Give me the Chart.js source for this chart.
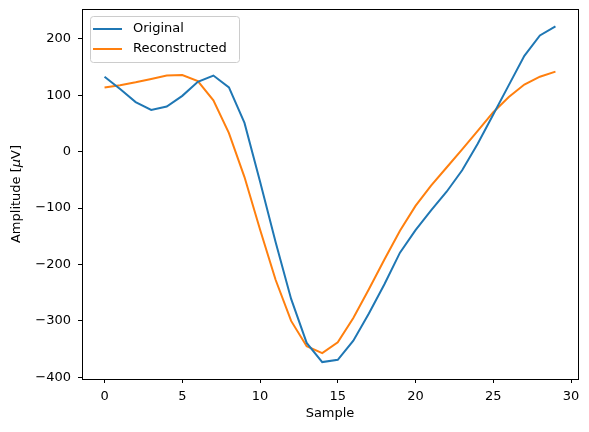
<!DOCTYPE html>
<html>
<head>
<meta charset="utf-8">
<script src="https://cdn.jsdelivr.net/npm/chart.js@4"></script>
<style>
  html, body { margin: 0; padding: 0; background: #fff; }
  #wrap { width: 589px; height: 432px; }
</style>
</head>
<body>
<div id="wrap"><canvas id="chart"></canvas></div>
<script>
const samples = Array.from({ length: 30 }, (_, i) => i);
const original = [133, 111, 88, 74, 80, 99, 124, 135, 114, 51,
  -53, -160, -261, -339, -373, -369, -335, -287, -235, -179,
  -139, -104, -71, -33, 14, 66, 118, 170, 206, 222];
const reconstructed = [114, 118, 123, 129, 135, 136, 125, 91, 33, -45,
  -138, -227, -300, -345, -357, -338, -295, -244, -191, -140,
  -96, -60, -28, 4, 37, 70, 97, 119, 133, 142];
const xTicks = [0, 5, 10, 15, 20, 25, 30];
const yTicks = [-400, -300, -200, -100, 0, 100, 200];

const font = { family: 'DejaVu Sans', size: 13 };

// matplotlib-like legend drawn inside the axes, upper left
const innerLegend = {
  id: 'innerLegend',
  afterDraw(chart) {
    const { ctx, chartArea } = chart;
    const x = chartArea.left + 8, y = chartArea.top + 7;
    const w = 149, h = 46;
    ctx.save();
    ctx.fillStyle = 'rgba(255,255,255,0.8)';
    ctx.strokeStyle = '#cccccc';
    ctx.lineWidth = 1;
    ctx.beginPath();
    ctx.roundRect(x + 0.5, y + 0.5, w, h, 3);
    ctx.fill();
    ctx.stroke();
    ctx.font = '13px "DejaVu Sans"';
    ctx.textBaseline = 'middle';
    chart.data.datasets.forEach((ds, i) => {
      const ly = y + 13 + i * 20;
      ctx.strokeStyle = ds.borderColor;
      ctx.lineWidth = 2;
      ctx.beginPath();
      ctx.moveTo(x + 3, ly);
      ctx.lineTo(x + 32, ly);
      ctx.stroke();
      ctx.fillStyle = '#000';
      ctx.fillText(ds.label, x + 43, ly);
    });
    ctx.restore();
  }
};

// y axis title with italic mu, like matplotlib mathtext
const yTitle = {
  id: 'yTitle',
  afterDraw(chart) {
    const { ctx, chartArea } = chart;
    const parts = [['Amplitude [', 'normal'], ['μ', 'italic'], ['V]', 'normal']];
    ctx.save();
    let total = 0;
    parts.forEach(([t, st]) => {
      ctx.font = st + ' 13px "DejaVu Sans"';
      total += ctx.measureText(t).width;
    });
    ctx.translate(17, (chartArea.top + chartArea.bottom) / 2);
    ctx.rotate(-Math.PI / 2);
    ctx.fillStyle = '#000';
    ctx.textBaseline = 'middle';
    let px = -total / 2;
    parts.forEach(([t, st]) => {
      ctx.font = st + ' 13px "DejaVu Sans"';
      ctx.fillText(t, px, 0);
      px += ctx.measureText(t).width;
    });
    ctx.restore();
  }
};

const noPad = (axis) => {
  axis.paddingTop = 0; axis.paddingBottom = 0;
  axis.paddingLeft = 0; axis.paddingRight = 0;
};

// matplotlib writes negatives with a real minus sign
const tickLabel = (v) => (v < 0 ? '\u2212' + Math.abs(v) : String(v));

new Chart(document.getElementById('chart'), {
  type: 'line',
  data: {
    datasets: [
      {
        label: 'Original',
        data: samples.map((s, i) => ({ x: s, y: original[i] })),
        borderColor: '#1f77b4',
        borderWidth: 2,
        pointRadius: 0,
        fill: false,
        tension: 0,
      },
      {
        label: 'Reconstructed',
        data: samples.map((s, i) => ({ x: s, y: reconstructed[i] })),
        borderColor: '#ff7f0e',
        borderWidth: 2,
        pointRadius: 0,
        fill: false,
        tension: 0,
      }
    ]
  },
  options: {
    responsive: true,
    maintainAspectRatio: false,
    animation: false,
    layout: { padding: { top: 9, right: 11, left: 0, bottom: 0 } },
    plugins: {
      legend: { display: false },
      tooltip: { enabled: false },
    },
    scales: {
      x: {
        type: 'linear',
        min: -1.45,
        max: 30.45,
        afterBuildTicks: (axis) => { axis.ticks = xTicks.map(v => ({ value: v })); },
        afterFit: (axis) => { axis.height = 53; noPad(axis); },
        grid: { drawOnChartArea: false, drawTicks: true, tickLength: 4, color: '#000' },
        border: { color: '#000', width: 1 },
        ticks: { color: '#000', font, padding: 6, maxRotation: 0, callback: tickLabel },
        title: { display: true, text: 'Sample', color: '#000', font, padding: { top: 2, bottom: 11 } },
      },
      y: {
        min: -403,
        max: 253,
        afterBuildTicks: (axis) => { axis.ticks = yTicks.map(v => ({ value: v })); },
        afterFit: (axis) => { axis.width = 82; noPad(axis); },
        grid: { drawOnChartArea: false, drawTicks: true, tickLength: 4, color: '#000' },
        border: { color: '#000', width: 1 },
        ticks: { color: '#000', font, padding: 7, callback: tickLabel },
        title: { display: false },
      },
      x2: {
        type: 'linear', position: 'top', display: true,
        grid: { display: false }, ticks: { display: false },
        border: { color: '#000', width: 1 },
        afterFit: (axis) => { axis.height = 0; noPad(axis); },
      },
      y2: {
        position: 'right', display: true,
        grid: { display: false }, ticks: { display: false },
        border: { color: '#000', width: 1 },
        afterFit: (axis) => { axis.width = 0; noPad(axis); },
      },
    }
  },
  plugins: [innerLegend, yTitle]
});
</script>
</body>
</html>
